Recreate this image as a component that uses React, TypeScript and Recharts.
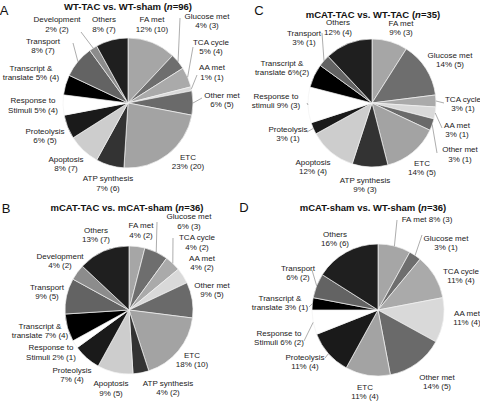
import React from 'react';
import { PieChart, Pie, Cell } from 'recharts';

const categories = [
  'FA met', 'Glucose met', 'TCA cycle', 'AA met', 'Other met', 'ETC', 'ATP synthesis',
  'Apoptosis', 'Proteolysis', 'Response to Stimuli', 'Transcript & translate', 'Transport',
  'Development', 'Others',
];
const categoryColors = [
  '#a6a6a6', '#6e6e6e', '#aaaaaa', '#d9d9d9', '#6a6a6a', '#a3a3a3', '#333333',
  '#cdcdcd', '#1a1a1a', '#ffffff', '#000000', '#636363', '#8c8c8c', '#1f1f1f',
];

const pctA = [12, 4, 5, 1, 6, 23, 7, 8, 6, 5, 5, 8, 2, 8];
const countA = [10, 3, 4, 1, 5, 20, 6, 7, 5, 4, 4, 7, 2, 7];
const pctB = [4, 6, 4, 4, 9, 18, 4, 9, 7, 2, 7, 9, 4, 13];
const countB = [2, 3, 2, 2, 5, 10, 2, 5, 4, 1, 4, 5, 2, 7];
const pctC = [9, 14, 3, 3, 3, 14, 9, 12, 3, 9, 6, 3, 0, 12];
const countC = [3, 5, 1, 1, 1, 5, 3, 4, 1, 3, 2, 1, 0, 4];
const pctD = [8, 3, 11, 11, 14, 11, 0, 0, 11, 6, 3, 6, 0, 16];
const countD = [3, 1, 4, 4, 5, 4, 0, 0, 4, 2, 1, 2, 0, 6];

const titles = {
  A: ['WT-TAC vs. WT-sham', 96],
  B: ['mCAT-TAC vs. mCAT-sham', 36],
  C: ['mCAT-TAC vs. WT-TAC', 35],
  D: ['mCAT-sham vs. WT-sham', 36],
};

const FONT = '"Liberation Sans", Arial, Helvetica, sans-serif';

function defaultLines(i: number, pct: number, cnt: number): string[] {
  const v = `${pct}% (${cnt})`;
  if (i === 9) return ['Response to', `Stimuli ${v}`];
  if (i === 10) return ['Transcript &', `translate ${v}`];
  return [categories[i], v];
}

// label layout: [dx, dy] of label block centre relative to pie centre, optional leader end [lx, ly]
type Layout = Record<number, number[]>;

const layoutA: Layout = {
  0: [24, -78.5], 1: [79, -82, 52, -85], 2: [83, -56, 65, -56], 3: [84, -30.5, 69, -28],
  4: [94, -3, 74, -5], 5: [60, 59], 6: [-20, 80.5], 7: [-62, 61], 8: [-83, 33],
  9: [-95, 2.5], 10: [-97, -30], 11: [-85, -57, -55, -60], 12: [-71, -78.5, -47, -71],
  13: [-24, -78.5],
};
const layoutB: Layout = {
  0: [12, -79.5], 1: [60, -88.5, 28, -88], 2: [68, -67.5, 44, -72], 3: [73, -47], 4: [83, -20],
  5: [63, 50], 6: [39, 78], 7: [-18, 78.5], 8: [-57, 65], 9: [-78, 42.5], 10: [-89, 21],
  11: [-82, -18], 12: [-69, -49], 13: [-33, -75],
};
const layoutC: Layout = {
  0: [29, -75], 1: [78, -43], 2: [91, 1, 72, 0], 3: [85, 27, 70, 25], 4: [88, 51.5, 65, 50],
  5: [50, 65], 6: [-7, 82], 7: [-59, 64], 8: [-84, 31, -65, 29], 9: [-96, -2, -65, 0],
  10: [-90, -35], 11: [-68, -65, -50, -70], 13: [-34, -75.5],
};
const layoutD: Layout = {
  0: [49, -91, 19, -90], 1: [68, -67, 44, -75], 2: [83, -34], 3: [89, 8], 4: [59, 72],
  5: [-13, 82], 8: [-73, 52, -53, 48], 9: [-99, 28, -74, 31], 10: [-98, -7, -69, -3],
  11: [-80, -37, -66, -40], 13: [-43, -71],
};

const textOverrides: Record<string, Record<number, string[]>> = {
  C: {
    9: ['Response to', `stimuli ${pctC[9]}% (${countC[9]})`],
    10: ['Transcript &', `translate ${pctC[10]}%(${countC[10]})`],
  },
  D: { 0: [`FA met ${pctD[0]}% (${countD[0]})`] },
};

type PanelDef = {
  key: 'A' | 'B' | 'C' | 'D';
  pct: number[];
  count: number[];
  cx: number;
  cy: number;
  r: number;
  layout: Layout;
  titleX: number;
  titleY: number;
  letterX: number;
  letterY: number;
};

const panels: PanelDef[] = [
  { key: 'A', pct: pctA, count: countA, cx: 128, cy: 103, r: 65, layout: layoutA, titleX: 128, titleY: 6, letterX: 4, letterY: 10 },
  { key: 'C', pct: pctC, count: countC, cx: 372, cy: 103, r: 64, layout: layoutC, titleX: 373, titleY: 14, letterX: 259, letterY: 10 },
  { key: 'B', pct: pctB, count: countB, cx: 129, cy: 310, r: 64, layout: layoutB, titleX: 127, titleY: 207, letterX: 6, letterY: 208 },
  { key: 'D', pct: pctD, count: countD, cx: 378, cy: 310, r: 66, layout: layoutD, titleX: 373, titleY: 207, letterX: 244, letterY: 207 },
];

const RAD = Math.PI / 180;
const LH = 9.8;

function makeLabel(p: PanelDef, data: { idx: number; value: number; count: number }[]) {
  return (props: any) => {
    const entry = data[props.index];
    if (!entry) return null;
    const i = entry.idx;
    const lay = p.layout[i];
    if (!lay) return null;
    const cx = Number(props.cx);
    const cy = Number(props.cy);
    const mid = Number(props.midAngle);
    const orad = Number(props.outerRadius);
    const lines = (textOverrides[p.key] && textOverrides[p.key][i]) || defaultLines(i, entry.value, entry.count);
    const bx = cx + lay[0];
    const by = cy + lay[1];
    const sx = cx + orad * Math.cos(-mid * RAD);
    const sy = cy + orad * Math.sin(-mid * RAD);
    return (
      <g key={`lab-${p.key}-${i}`}>
        {lay.length > 2 && (
          <line x1={sx} y1={sy} x2={cx + lay[2]} y2={cy + lay[3]} stroke="#8a8a8a" strokeWidth={0.7} />
        )}
        {lines.map((t, k) => (
          <text
            key={k}
            x={bx}
            y={by + (k - (lines.length - 1) / 2) * LH}
            textAnchor="middle"
            dominantBaseline="central"
            fontFamily={FONT}
            fontSize={8}
            fill="#222"
            stroke="none"
          >
            {t}
          </text>
        ))}
      </g>
    );
  };
}

export default function App() {
  return (
    <div style={{ position: 'absolute', left: 0, top: 0, width: 480, height: 401, background: '#fff' }}>
      <PieChart width={480} height={401} margin={{ top: 0, right: 0, bottom: 0, left: 0 }}>
        {panels.map((p) => {
          const data = categories
            .map((name, idx) => ({ name, idx, value: p.pct[idx], count: p.count[idx] }))
            .filter((d) => d.value > 0);
          return (
            <Pie
              key={p.key}
              data={data}
              dataKey="value"
              nameKey="name"
              cx={p.cx}
              cy={p.cy}
              outerRadius={p.r}
              innerRadius={0}
              startAngle={90}
              endAngle={-270}
              stroke="#f2f2f2"
              strokeWidth={0.7}
              isAnimationActive={false}
              labelLine={false}
              label={makeLabel(p, data)}
            >
              {data.map((d) => (
                <Cell key={d.idx} fill={categoryColors[d.idx]} />
              ))}
            </Pie>
          );
        })}
      </PieChart>
      <svg width={480} height={401} style={{ position: 'absolute', left: 0, top: 0, pointerEvents: 'none' }}>
        {panels.map((p) => {
          const [t, n] = titles[p.key] as [string, number];
          return (
            <g key={p.key}>
              <text x={p.letterX} y={p.letterY} textAnchor="middle" dominantBaseline="central" fontFamily={FONT} fontSize={13} fill="#111">
                {p.key}
              </text>
              <text x={p.titleX} y={p.titleY} textAnchor="middle" dominantBaseline="central" fontFamily={FONT} fontSize={9.5} fontWeight="bold" fill="#111">
                {t} (<tspan fontStyle="italic">n</tspan>={n})
              </text>
            </g>
          );
        })}
      </svg>
    </div>
  );
}
